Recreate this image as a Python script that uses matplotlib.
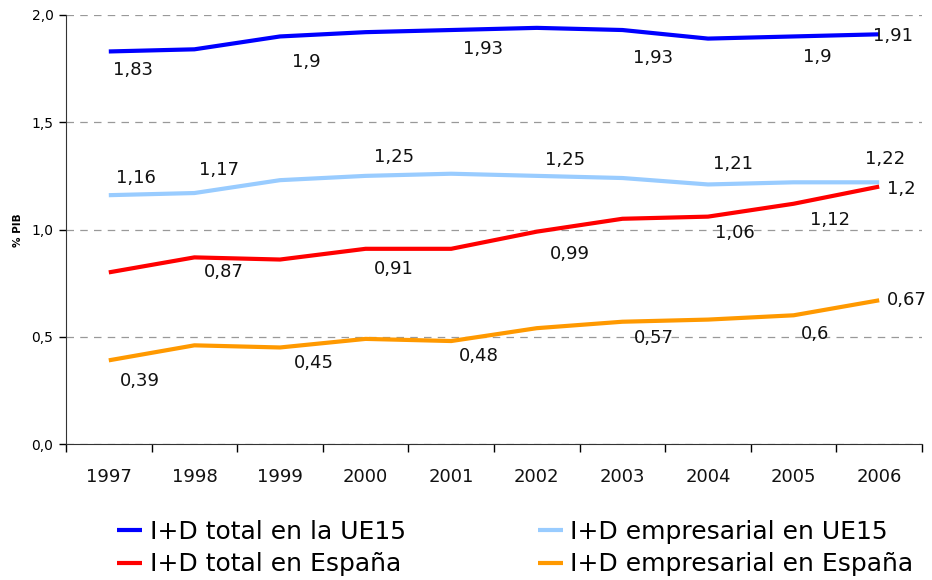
import matplotlib
matplotlib.use("Agg")
import matplotlib.pyplot as plt
import numpy as np

plt.rcParams['font.family'] = ['DejaVu Sans']

years = ['1997', '1998', '1999', '2000', '2001', '2002', '2003', '2004', '2005', '2006']
ue15_total = [1.83, 1.84, 1.90, 1.92, 1.93, 1.94, 1.93, 1.89, 1.90, 1.91]
ue15_emp = [1.16, 1.17, 1.23, 1.25, 1.26, 1.25, 1.24, 1.21, 1.22, 1.22]
esp_total = [0.80, 0.87, 0.86, 0.91, 0.91, 0.99, 1.05, 1.06, 1.12, 1.20]
esp_emp = [0.39, 0.46, 0.45, 0.49, 0.48, 0.54, 0.57, 0.58, 0.60, 0.67]

# indices of points that carry a data label
ue15_total_lbl = [0, 2, 4, 6, 8, 9]
ue15_emp_lbl = [0, 1, 3, 5, 7, 9]
esp_total_lbl = [1, 3, 5, 7, 8, 9]
esp_emp_lbl = [0, 2, 4, 6, 8, 9]

labels = ['I+D total en la UE15', 'I+D empresarial en UE15',
          'I+D total en España', 'I+D empresarial en España']
colors = ['#0000FF', '#99CCFF', '#FF0000', '#FF9900']

# label offsets in pixels (dx right, dy down)
off_ue15_total = [(24, 19), (26, 26), (32, 19), (31, 28), (24, 21), (14, 2)]
off_ue15_emp = [(27, -17), (25, -23), (28, -19), (28, -16), (25, -20), (6, -23)]
off_esp_total = [(29, 15), (28, 20), (33, 22), (27, 16), (36, 16), (22, 2)]
off_esp_emp = [(31, 21), (34, 16), (28, 15), (31, 16), (21, 19), (28, 0)]

fig = plt.figure(figsize=(9.32, 5.8), dpi=100)
ax = fig.add_axes([66/932, 1-444/580, (922-66)/932, (444-15)/580])

x = np.arange(len(years))
series = [ue15_total, ue15_emp, esp_total, esp_emp]
lbls = [ue15_total_lbl, ue15_emp_lbl, esp_total_lbl, esp_emp_lbl]
offs = [off_ue15_total, off_ue15_emp, off_esp_total, off_esp_emp]

lines = []
for s, c, lab in zip(series, colors, labels):
    ln, = ax.plot(x, s, color=c, lw=3, solid_capstyle='butt', solid_joinstyle='round', label=lab, zorder=3)
    lines.append(ln)

for s, idxs, of in zip(series, lbls, offs):
    for i, (dx, dy) in zip(idxs, of):
        txt = f"{s[i]:g}".replace('.', ',')
        ax.annotate(txt, (x[i], s[i]), xytext=(dx, -dy), textcoords='offset pixels',
                    ha='center', va='center', fontsize=13, color='#111111', zorder=4)

ax.set_xlim(-0.5, len(years) - 0.5)
ax.set_ylim(0, 2.0)
ax.set_yticks([0, 0.5, 1.0, 1.5, 2.0])
ax.set_yticklabels(['0,0', '0,5', '1,0', '1,5', '2,0'], fontsize=10)
ax.set_xticks(np.arange(-0.5, len(years), 1.0))
ax.set_xticklabels([])
ax.set_xticks(x, minor=True)
ax.set_xticklabels(years, minor=True, fontsize=13, color='#111111')
ax.tick_params(axis='x', which='minor', length=0, pad=17)
ax.tick_params(axis='x', which='major', length=6, direction='out', width=1)
ax.tick_params(axis='y', length=5, direction='out', width=1, pad=4)
for sp in ['top', 'right']:
    ax.spines[sp].set_visible(False)
for sp in ['left', 'bottom']:
    ax.spines[sp].set_color('#333333')
ax.grid(axis='y', linestyle=(0, (6, 5)), color='#999999', lw=0.9, zorder=0)
ax.set_axisbelow(True)

fig.text(18/932, 1-230/580, '% PIB', rotation=90, fontsize=7.5, fontweight='bold',
         ha='center', va='center')

order = [0, 2, 1, 3]
fig.legend(handles=[lines[i] for i in order], labels=[labels[i] for i in order],
           ncol=2, frameon=False,
           loc='upper left', bbox_to_anchor=(117/932, 1-520/580),
           fontsize=18, handlelength=1.0, handletextpad=0.3, columnspacing=5.3,
           labelspacing=0.33, borderpad=0, borderaxespad=0)

fig.savefig('out.png', dpi=100)
